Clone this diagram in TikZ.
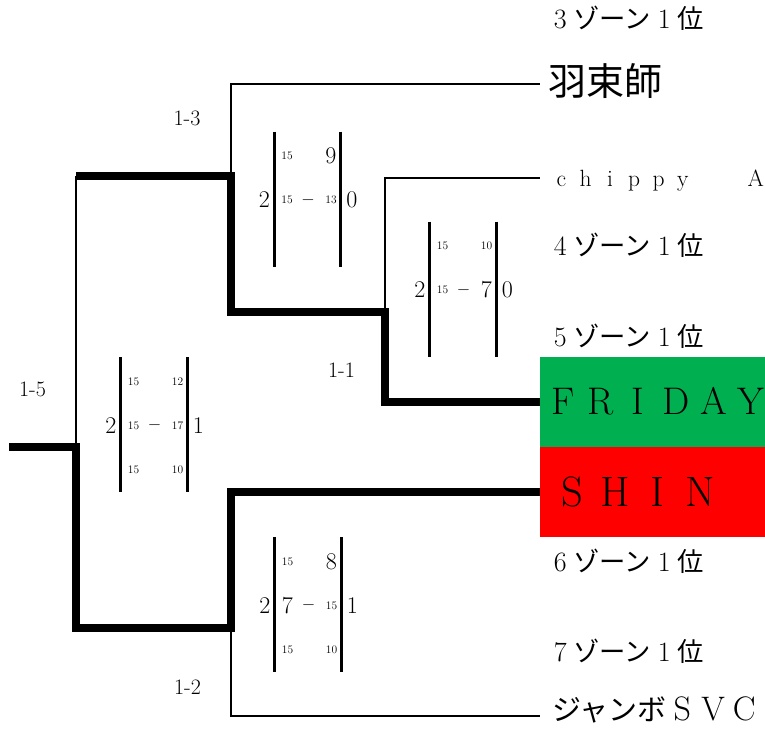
\documentclass[tikz,border=0pt]{standalone}
\usepackage{fontspec}
\newfontfamily\jpfont{Noto Sans CJK JP}
\definecolor{cellgreen}{HTML}{00B050}
\definecolor{cellred}{HTML}{FF0000}
\newlength\fwwd
\newcommand{\fw}[1]{\makebox[\fwwd]{#1}}
\newcommand{\zonelabel}[1]{{\fontsize{28}{28}\selectfont\setlength\fwwd{26.3pt}\fw{#1}}{\jpfont\fontsize{26.3}{26.3}\selectfont ゾーン}{\fontsize{28}{28}\selectfont\setlength\fwwd{26.3pt}\fw{1}}{\jpfont\fontsize{26.3}{26.3}\selectfont 位}}
\tikzset{
  thinln/.style={line width=2.5pt, line cap=butt},
  thickln/.style={line width=7.5pt, line cap=butt, line join=miter},
  barln/.style={line width=3pt},
  big/.style={inner sep=0pt, font=\fontsize{24}{24}\selectfont},
  small/.style={inner sep=0pt, font=\fontsize{11.5}{11.5}\selectfont},
  dashtxt/.style={inner sep=0pt, anchor=base, font=\fontsize{16}{16}\selectfont},
  matchlbl/.style={inner sep=0pt, font=\fontsize{22}{22}\selectfont},
  team/.style={inner sep=0pt, anchor=base west},
  cell/.style={inner sep=0pt, anchor=north west, minimum width=225pt, minimum height=90pt}
}
\begin{document}
\begin{tikzpicture}[x=1pt,y=-1pt]
\useasboundingbox (0,0) rectangle (765,736);
\fill[white] (0,0) rectangle (765,736);

% coloured cells
\node[cell, fill=cellgreen] (gcell) at (540,357) {};
\node[cell, fill=cellred] (rcell) at (540,447) {};

% junction coordinates
\coordinate (root) at (9,447);
\coordinate (j5) at (76,447);
\coordinate (j5t) at (76,176);
\coordinate (j5b) at (76,628);
\coordinate (j3) at (231,176);
\coordinate (j3t) at (231,84);
\coordinate (j3b) at (231,312);
\coordinate (j1) at (385,312);
\coordinate (j1t) at (385,178);
\coordinate (j1b) at (385,402);
\coordinate (j2) at (231,628);
\coordinate (j2t) at (231,492);
\coordinate (j2b) at (231,716);
\coordinate (e1) at (540,84);
\coordinate (e2) at (540,178);
\coordinate (e3) at (540,402);
\coordinate (e4) at (540,492);
\coordinate (e5) at (540,716);

% thin connectors
\draw[thinln] (j5t) -- (j5);
\draw[thinln] (j3) -- (j3t) -- (e1);
\draw[thinln] (j1) -- (j1t) -- (e2);
\draw[thinln] (j2) -- (j2b) -- (e5);
% thick connectors (winner path)
\draw[thickln] (root) -- (j5) -- (j5b) -- (j2) -- (j2t) -- (e4);
\draw[thickln] (j5t) -- (j3) -- (j3b) -- (j1) -- (j1b) -- (e3);

% team / zone labels
\node[team] (z3) at (547,28) {\zonelabel{3}};
\node[team] (t1) at (548,95) {\jpfont\fontsize{38}{38}\selectfont 羽束師};
\node[team] (t2) at (549,186) {\fontsize{23.5}{23.5}\selectfont\setlength\fwwd{24.3pt}\fw{c}\fw{h}\fw{i}\fw{p}\fw{p}\fw{y}\hspace{48.6pt}\fw{A}};
\node[team] (z4) at (547,255) {\zonelabel{4}};
\node[team] (z5) at (547,346.5) {\zonelabel{5}};
\node[team] (t3) at (544,414) {\fontsize{38.5}{38.5}\selectfont\setlength\fwwd{37.6pt}\fw{F}\fw{R}\fw{I}\fw{D}\fw{A}\fw{Y}};
\node[team] (t4) at (551,506) {\fontsize{42.5}{42.5}\selectfont\setlength\fwwd{42.6pt}\fw{S}\fw{H}\fw{I}\fw{N}};
\node[team] (z6) at (547,571.5) {\zonelabel{6}};
\node[team] (z7) at (547,661.5) {\zonelabel{7}};
\node[team] (t5) at (552,720) {{\jpfont\fontsize{29}{29}\selectfont ジャンボ}{\fontsize{34}{34}\selectfont\setlength\fwwd{31pt}\fw{S}\fw{V}\fw{C}}};

% match labels
\node[matchlbl] (m13) at (187,118) {1-3};
\node[matchlbl] (m11) at (341.5,370.5) {1-1};
\node[matchlbl] (m15) at (32.5,389) {1-5};
\node[matchlbl] (m12) at (187.5,687.5) {1-2};

% score box 1-3
\begin{scope}[shift={(274,131.5)}]
  \draw[barln] (0,0) -- (0,135);
  \draw[barln] (66.5,0) -- (66.5,135);
  \node[small] (a11) at (13,24.5) {15};
  \node[big] (a12) at (57,24.5) {9};
  \node[big] (a20) at (-9.5,68.5) {2};
  \node[small] (a21) at (13,68.5) {15};
  \node[dashtxt] (a2d) at (34,72.5) {$-$};
  \node[small] (a22) at (57,68.5) {13};
  \node[big] (a23) at (78,68.5) {0};
\end{scope}

% score box 1-1
\begin{scope}[shift={(429.5,221.5)}]
  \draw[barln] (0,0) -- (0,135);
  \draw[barln] (66.5,0) -- (66.5,135);
  \node[small] (b11) at (13,24.5) {15};
  \node[small] (b12) at (57,24.5) {10};
  \node[big] (b20) at (-9.5,68.5) {2};
  \node[small] (b21) at (13,68.5) {15};
  \node[dashtxt] (b2d) at (34,72.5) {$-$};
  \node[big] (b22) at (57,68.5) {7};
  \node[big] (b23) at (78,68.5) {0};
\end{scope}

% score box 1-5
\begin{scope}[shift={(120.5,357)}]
  \draw[barln] (0,0) -- (0,135);
  \draw[barln] (66.5,0) -- (66.5,135);
  \node[small] (c11) at (13,24.5) {15};
  \node[small] (c12) at (57,24.5) {12};
  \node[big] (c20) at (-9.5,68.5) {2};
  \node[small] (c21) at (13,68.5) {15};
  \node[dashtxt] (c2d) at (34,72.5) {$-$};
  \node[small] (c22) at (57,68.5) {17};
  \node[big] (c23) at (78,68.5) {1};
  \node[small] (c31) at (13,113) {15};
  \node[small] (c32) at (57,113) {10};
\end{scope}

% score box 1-2
\begin{scope}[shift={(274.5,537)}]
  \draw[barln] (0,0) -- (0,135);
  \draw[barln] (66.5,0) -- (66.5,135);
  \node[small] (d11) at (13,24.5) {15};
  \node[big] (d12) at (57,24.5) {8};
  \node[big] (d20) at (-9.5,68.5) {2};
  \node[big] (d21) at (13,68.5) {7};
  \node[dashtxt] (d2d) at (34,72.5) {$-$};
  \node[small] (d22) at (57,68.5) {15};
  \node[big] (d23) at (78,68.5) {1};
  \node[small] (d31) at (13,113) {15};
  \node[small] (d32) at (57,113) {10};
\end{scope}
\end{tikzpicture}
\end{document}
